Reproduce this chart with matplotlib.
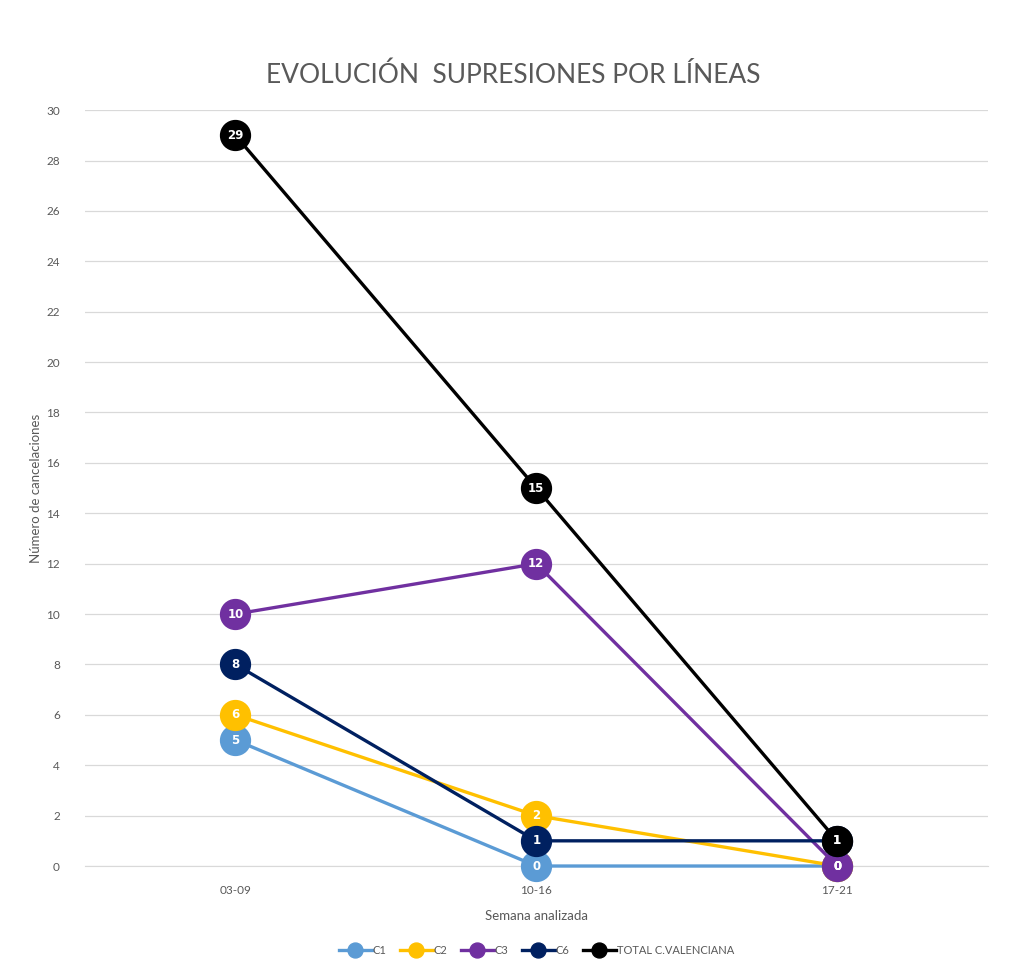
import matplotlib.pyplot as plt
import numpy as np

plt.rcParams.update({
    "font.family": ["Lato", "DejaVu Sans"],
    "font.size": 8,
})

# data
weeks = ['03-09', '10-16', '17-21']
c1 = [5, 0, 0]
c2 = [6, 2, 0]
c3 = [10, 12, 0]
c6 = [8, 1, 1]
total = [29, 15, 1]

series = [
    ('C1', c1, '#5B9BD5'),
    ('C2', c2, '#FFC000'),
    ('C3', c3, '#7030A0'),
    ('C6', c6, '#002060'),
    ('TOTAL C.VALENCIANA', total, '#000000'),
]

fig = plt.figure(figsize=(10.14, 9.66), dpi=100)
ax = fig.add_axes([0.0838, 0.1035, 0.8902, 0.7825])

x = np.arange(len(weeks))
for name, vals, col in series:
    ax.plot(x, vals, color=col, linewidth=2.4, marker='o', markersize=21.5,
            markeredgecolor=col, label=name, zorder=3, clip_on=False)
    for xi, v in zip(x, vals):
        ax.text(xi, v, str(v), ha='center', va='center', color='white',
                fontsize=8.5, fontweight='bold', family='DejaVu Sans', zorder=4)

ax.set_xlim(-0.5, 2.5)
ax.set_ylim(0, 30)
ax.set_yticks(np.arange(0, 31, 2))
ax.set_xticks(x)
ax.set_xticklabels(weeks)
ax.grid(axis='y', color='#d9d9d9', linewidth=0.9)
ax.set_axisbelow(True)
for s in ['top', 'right', 'left']:
    ax.spines[s].set_visible(False)
ax.spines['bottom'].set_color('#d9d9d9')
ax.tick_params(axis='both', length=0, colors='#595959', labelsize=8.5, pad=14)
ax.tick_params(axis='y', pad=18)

ax.set_xlabel('Semana analizada', color='#595959', fontsize=9.5, labelpad=10)
ax.set_ylabel('Número de cancelaciones', color='#595959', fontsize=9.5, labelpad=3)

fig.text(0.506, 0.922, 'EVOLUCIÓN  SUPRESIONES POR LÍNEAS', ha='center', va='center',
         fontsize=19, color='#595959')

ax.legend(loc='center', bbox_to_anchor=(0.5, -0.112), ncol=5, frameon=False,
          markerscale=0.5, handlelength=3.0, columnspacing=1.2, handletextpad=0.05,
          fontsize=8, labelcolor='#595959')

fig.savefig('out.png', dpi=100, facecolor='white')
